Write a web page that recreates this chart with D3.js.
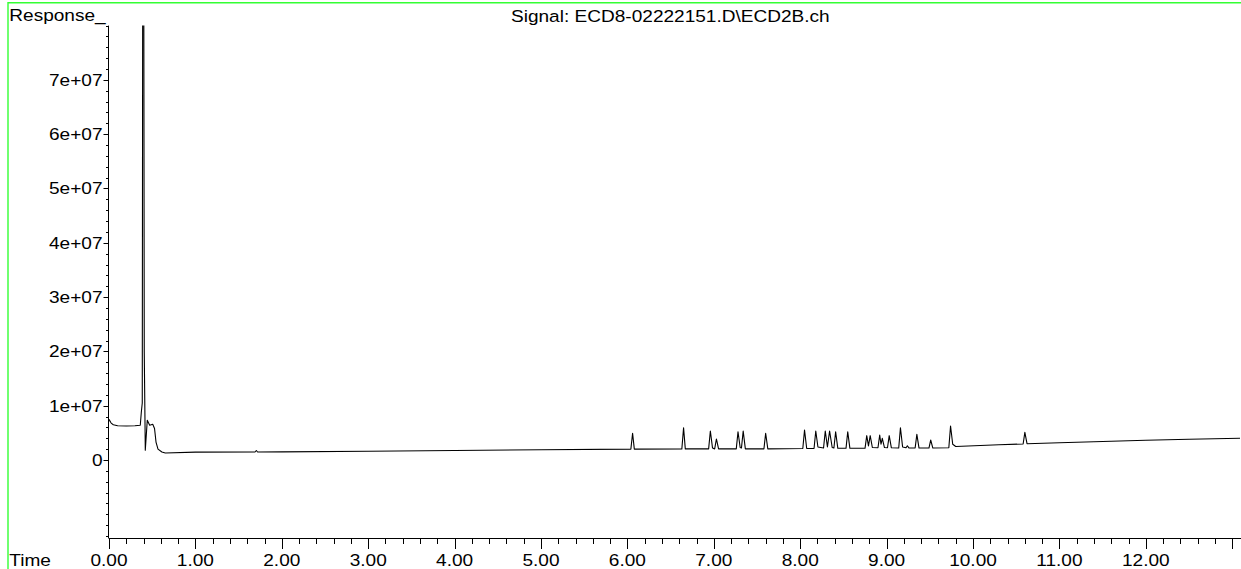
<!DOCTYPE html>
<html>
<head>
<meta charset="utf-8">
<script src="https://cdn.jsdelivr.net/npm/d3@7/dist/d3.min.js"></script>
<style>
  html, body { margin: 0; padding: 0; background: #fff; }
  svg { display: block; }
  text { font-family: "Liberation Sans", Arial, sans-serif; fill: #000; }
</style>
</head>
<body>
<svg id="chart" width="1241" height="569"></svg>
<script>
// ---- Data ----
const chartTitle = "Signal: ECD8-02222151.D\\ECD2B.ch";
const yAxisTitle = "Response_";
const xAxisTitle = "Time";

const xTickValues = [0,1,2,3,4,5,6,7,8,9,10,11,12,13];
const xTickLabels = ["0.00","1.00","2.00","3.00","4.00","5.00","6.00","7.00","8.00","9.00","10.00","11.00","12.00",""];
const yTickValues = [0,1e7,2e7,3e7,4e7,5e7,6e7,7e7];
const yTickLabels = ["0","1e+07","2e+07","3e+07","4e+07","5e+07","6e+07","7e+07"];

// Chromatogram trace: retention time (min) and response
const traceTime = [
  0.000, 0.010, 0.025, 0.050, 0.100, 0.200, 0.300, 0.362, 0.374, 0.385,
  0.392, 0.400, 0.408, 0.420, 0.443, 0.471, 0.506, 0.527, 0.544, 0.567,
  0.612, 0.652, 1.000, 1.690, 1.705, 1.720, 2.000, 3.000, 4.000, 5.000,
  6.040, 6.060, 6.080, 6.630, 6.650, 6.670, 6.940, 6.960, 6.985, 7.010,
  7.030, 7.055, 7.260, 7.280, 7.305, 7.320, 7.340, 7.365, 7.580, 7.600,
  7.625, 8.030, 8.050, 8.075, 8.160, 8.180, 8.205, 8.270, 8.290, 8.315,
  8.340, 8.370, 8.390, 8.410, 8.435, 8.530, 8.550, 8.575, 8.750, 8.770,
  8.790, 8.810, 8.835, 8.900, 8.920, 8.935, 8.950, 8.975, 9.010, 9.030,
  9.055, 9.140, 9.160, 9.185, 9.225, 9.240, 9.260, 9.330, 9.350, 9.375,
  9.490, 9.510, 9.535, 9.720, 9.740, 9.765, 9.800, 10.300, 10.580, 10.600,
  10.625, 11.000, 11.500, 12.000, 12.500, 13.090
];
const traceResponse = [
  7.5e6, 7.2e6, 6.8e6, 6.5e6, 6.3e6, 6.25e6, 6.3e6, 6.39e6, 8.8e6, 1.05e7,
  1.2e8, 1.2e8, 2.0e7, 1.79e6, 7.31e6, 6.39e6, 6.57e6, 5.8e6, 3.31e6, 2.0e6,
  1.47e6, 1.29e6, 1.45e6, 1.47e6, 1.75e6, 1.47e6, 1.50e6, 1.62e6, 1.75e6, 1.88e6,
  2.00e6, 4.92e6, 2.00e6, 2.03e6, 5.95e6, 2.05e6, 2.05e6, 5.34e6, 2.2e6, 2.05e6,
  3.87e6, 2.05e6, 2.05e6, 5.21e6, 2.3e6, 2.2e6, 5.34e6, 2.05e6, 2.05e6, 4.92e6,
  2.05e6, 2.12e6, 5.52e6, 2.12e6, 2.12e6, 5.34e6, 2.4e6, 2.2e6, 5.34e6, 2.4e6,
  5.34e6, 2.3e6, 2.2e6, 5.21e6, 2.15e6, 2.15e6, 5.21e6, 2.15e6, 2.15e6, 4.48e6,
  2.6e6, 4.48e6, 2.3e6, 2.25e6, 4.6e6, 2.9e6, 4.0e6, 2.3e6, 2.25e6, 4.48e6,
  2.25e6, 2.2e6, 5.95e6, 2.4e6, 2.25e6, 2.63e6, 2.2e6, 2.2e6, 4.73e6, 2.2e6,
  2.2e6, 3.68e6, 2.2e6, 2.25e6, 6.26e6, 2.9e6, 2.49e6, 2.80e6, 2.95e6, 5.10e6,
  3.0e6, 3.17e6, 3.41e6, 3.63e6, 3.81e6, 4.0e6
];

// ---- Layout ----
const svg = d3.select("#chart");
const W = 1241, H = 569;
const plotLeft = 108.5, plotRight = 1241, plotTop = 25.6, plotBottom = 538;
const FS = 16.3, SX = 1.17;   // font size and horizontal stretch

const x = d3.scaleLinear().domain([0, 13.09]).range([109, 1240]);
const y = d3.scaleLinear().domain([-1.4365e7, 8e7]).range([plotBottom, plotTop]);

// frame (green)
svg.append("line").attr("x1", 8).attr("x2", W).attr("y1", 2.8).attr("y2", 2.8)
  .attr("stroke", "#33ff33").attr("stroke-width", 1.4);
svg.append("line").attr("x1", 8).attr("x2", 8).attr("y1", 2.1).attr("y2", H)
  .attr("stroke", "#33ff33").attr("stroke-width", 1.4);

function stretchedText(px, py, str, anchor) {
  svg.append("g").attr("transform", `translate(${px},${py}) scale(${SX},1)`)
    .append("text").attr("x", 0).attr("y", 0)
    .attr("text-anchor", anchor).attr("font-size", FS).text(str);
}

// titles
stretchedText(9.3, 20.7, yAxisTitle, "start");
stretchedText(511, 21.5, chartTitle, "start");
stretchedText(9.3, 565.5, xAxisTitle, "start");

// Y axis
const gy = svg.append("g");
gy.append("line").attr("x1", plotLeft).attr("x2", plotLeft)
  .attr("y1", plotTop).attr("y2", plotBottom).attr("stroke", "#000").attr("stroke-width", 1);
const yMinor = d3.range(-1.4e7, 8.0e7 + 1, 2e6);
gy.selectAll("line.ymin").data(yMinor).enter().append("line")
  .attr("x1", plotLeft - 2.5).attr("x2", plotLeft)
  .attr("y1", d => Math.round(y(d)) + 0.5).attr("y2", d => Math.round(y(d)) + 0.5)
  .attr("stroke", "#000").attr("stroke-width", 1);
yTickValues.forEach((v, i) => {
  const yy = Math.round(y(v)) + 0.5;
  gy.append("line").attr("x1", plotLeft - 5).attr("x2", plotLeft)
    .attr("y1", yy).attr("y2", yy).attr("stroke", "#000").attr("stroke-width", 1);
  stretchedText(102.5, y(v) + 6, yTickLabels[i], "end");
});

// X axis
const gx = svg.append("g");
gx.append("line").attr("x1", plotLeft).attr("x2", plotRight)
  .attr("y1", plotBottom + 0.5).attr("y2", plotBottom + 0.5).attr("stroke", "#000").attr("stroke-width", 1);
const xMinor = d3.range(0, 13.09, 0.2);
gx.selectAll("line.xmin").data(xMinor).enter().append("line")
  .attr("x1", d => Math.round(x(d)) + 0.5).attr("x2", d => Math.round(x(d)) + 0.5)
  .attr("y1", plotBottom).attr("y2", plotBottom + 6)
  .attr("stroke", "#000").attr("stroke-width", 1);
xTickValues.forEach((v, i) => {
  const xx = Math.round(x(v)) + 0.5;
  gx.append("line").attr("x1", xx).attr("x2", xx)
    .attr("y1", plotBottom).attr("y2", plotBottom + 11)
    .attr("stroke", "#000").attr("stroke-width", 1);
  if (xTickLabels[i]) stretchedText(x(v), 565.5, xTickLabels[i], "middle");
});

// clip + trace
svg.append("clipPath").attr("id", "plotclip").append("rect")
  .attr("x", plotLeft).attr("y", plotTop).attr("width", plotRight - plotLeft).attr("height", plotBottom - plotTop);
const pts = traceTime.map((t, i) => [t, traceResponse[i]]);
const line = d3.line().x(d => x(d[0])).y(d => y(d[1]));
svg.append("path").attr("clip-path", "url(#plotclip)")
  .attr("d", line(pts)).attr("fill", "none").attr("stroke", "#000")
  .attr("stroke-width", 1.1).attr("stroke-linejoin", "round");
</script>
</body>
</html>
